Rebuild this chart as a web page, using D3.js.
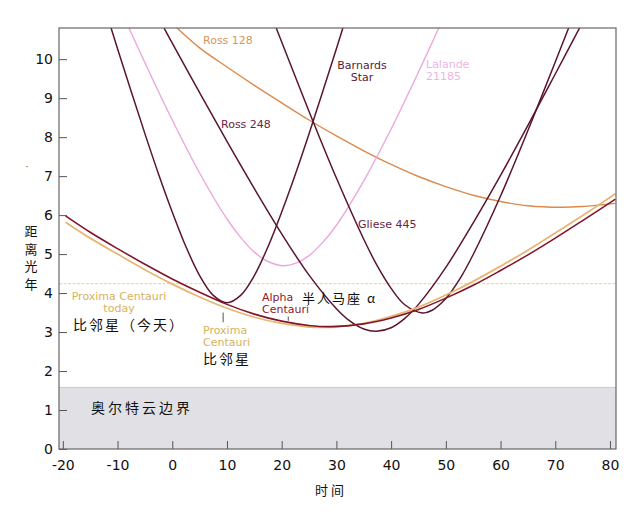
<!DOCTYPE html>
<html>
<head>
<meta charset="utf-8">
<script src="https://d3js.org/d3.v7.min.js"></script>
<style>
body { margin: 0; background: #fff; }
text { font-family: "DejaVu Sans", sans-serif; }
.cjk { font-family: "Noto Sans CJK SC", sans-serif; }
</style>
</head>
<body>
<div id="chart"></div>
<script>
    // distance (light years) over time (thousands of years)
    var proxima = [[-19.5,5.82],[-15,5.41],[-10,5.0],[-5,4.6],[0,4.23],[5,3.9],[10,3.61],[15,3.38],[20,3.22],[25,3.13],[27.5,3.12],[30,3.13],[35,3.22],[40,3.4],[45,3.64],[50,3.95],[55,4.3],[60,4.69],[65,5.1],[70,5.54],[75,5.99],[81,6.55]];
    var alphaCen = [[-19.5,5.98],[-15,5.56],[-10,5.14],[-5,4.74],[0,4.36],[5,4.02],[10,3.71],[15,3.46],[20,3.28],[25,3.17],[29,3.14],[35,3.21],[40,3.36],[45,3.58],[50,3.87],[55,4.2],[60,4.58],[65,4.98],[70,5.41],[75,5.86],[81,6.41]];
    var barnard = [[-12,11.17],[-10,10.27],[-7.5,9.17],[-5,8.09],[-2.5,7.05],[0,6.08],[2.5,5.19],[5,4.45],[7.5,3.94],[10,3.75],[12.5,3.94],[15,4.45],[17.5,5.19],[20,6.08],[22.5,7.05],[25,8.09],[27.5,9.17],[30,10.27],[32,11.17]];
    var ross248 = [[-2,10.93],[0,10.41],[5,9.14],[10,7.89],[15,6.68],[20,5.52],[25,4.46],[30,3.6],[32.5,3.28],[35,3.08],[37.3,3.02],[40,3.11],[42.5,3.35],[45,3.71],[50,4.66],[55,5.8],[60,7.02],[65,8.3],[70,9.62],[75,10.95]];
    var gliese445 = [[18,11.16],[20,10.44],[25,8.66],[30,6.95],[35,5.38],[37.5,4.69],[40,4.12],[42.5,3.7],[45.7,3.49],[47.5,3.56],[50,3.86],[52.5,4.35],[55,4.99],[60,6.49],[65,8.17],[70,9.93],[73,11.0]];
    var lalande = [[-9,11.14],[-5,9.91],[0,8.44],[5,7.08],[10,5.9],[12.5,5.43],[15,5.05],[17.5,4.81],[20.4,4.7],[22.5,4.76],[25,4.96],[27.5,5.3],[30,5.74],[35,6.88],[40,8.21],[45,9.67],[50,11.2]];
    var ross128 = [[0.5,10.85],[5,10.29],[10,9.8],[15,9.33],[20,8.88],[25,8.44],[30,8.03],[35,7.65],[40,7.3],[45,6.99],[50,6.73],[55,6.51],[60,6.35],[65,6.24],[71,6.2],[75,6.22],[81,6.3]];

    var proximaToday = 4.24;
    var oortEdge = 1.58;

    var xTicks = [-20, -10, 0, 10, 20, 30, 40, 50, 60, 70, 80];
    var yTicks = [0, 1, 2, 3, 4, 5, 6, 7, 8, 9, 10];

    var margin = {top: 28, right: 24, bottom: 63, left: 59},
        width = 640 - margin.left - margin.right,
        height = 512 - margin.top - margin.bottom;

    var svgRoot = d3.select("#chart")
        .append("svg")
        .attr("width", 640)
        .attr("height", 512);

    var svg = svgRoot.append("g")
        .attr("transform", "translate(" + margin.left + "," + margin.top + ")");

    var x = d3.scaleLinear().domain([-20.7, 81.1]).range([0, width]);
    var y = d3.scaleLinear().domain([0, 10.8]).range([height, 0]);

    svg.append("clipPath").attr("id", "plotclip")
        .append("rect").attr("width", width).attr("height", height);

    // Oort cloud band
    svg.append("rect")
        .attr("x", 0)
        .attr("y", y(oortEdge))
        .attr("width", width)
        .attr("height", y(0) - y(oortEdge))
        .attr("fill", "#e1e1e5");
    svg.append("line")
        .attr("x1", 0).attr("x2", width)
        .attr("y1", y(oortEdge)).attr("y2", y(oortEdge))
        .attr("stroke", "#c8c8cc");

    // Proxima today reference line
    svg.append("line")
        .attr("x1", 0).attr("x2", width)
        .attr("y1", y(proximaToday)).attr("y2", y(proximaToday))
        .attr("stroke", "#e8dcaa")
        .attr("stroke-width", 1.2)
        .attr("stroke-dasharray", "3,1.5");

    var line = d3.line()
        .x(function(d) { return x(d[0]); })
        .y(function(d) { return y(d[1]); })
        .curve(d3.curveCatmullRom.alpha(0.5));

    var series = [
        {data: ross128, color: "#dc8a4a", w: 1.4},
        {data: lalande, color: "#eba8de", w: 1.4},
        {data: barnard, color: "#5a1630", w: 1.5},
        {data: ross248, color: "#5a1630", w: 1.5},
        {data: gliese445, color: "#5a1630", w: 1.5},
        {data: proxima, color: "#e6b673", w: 1.8},
        {data: alphaCen, color: "#84142a", w: 1.6}
    ];

    var plot = svg.append("g").attr("clip-path", "url(#plotclip)");
    plot.selectAll("path.star")
        .data(series)
        .enter()
        .append("path")
        .attr("class", "star")
        .attr("d", function(d) { return line(d.data); })
        .attr("fill", "none")
        .attr("stroke", function(d) { return d.color; })
        .attr("stroke-width", function(d) { return d.w; });

    // pointer ticks under the labels
    var pointers = [[9.3, 3.5, 3.25], [21.2, 3.4, 3.29]];
    svg.selectAll("line.ptr")
        .data(pointers)
        .enter()
        .append("line")
        .attr("class", "ptr")
        .attr("x1", function(d) { return x(d[0]); })
        .attr("x2", function(d) { return x(d[0]); })
        .attr("y1", function(d) { return y(d[1]); })
        .attr("y2", function(d) { return y(d[2]); })
        .attr("stroke", "#555")
        .attr("stroke-width", 1);

    // axes
    var xAxis = svg.append("g")
        .attr("transform", "translate(0," + height + ")")
        .call(d3.axisBottom(x).tickValues(xTicks).tickSize(-8).tickPadding(11)
            .tickFormat(function(d) { return String(d); }));
    var yAxis = svg.append("g")
        .call(d3.axisLeft(y).tickValues(yTicks).tickSize(-8).tickPadding(6)
            .tickFormat(function(d) { return String(d); }));

    [xAxis, yAxis].forEach(function(a) {
        a.select(".domain").remove();
        a.selectAll(".tick line").attr("stroke", "#555");
        a.selectAll(".tick text")
            .attr("font-family", "DejaVu Sans, sans-serif")
            .attr("font-size", 14)
            .attr("fill", "#111");
    });

    // frame
    svg.append("rect")
        .attr("width", width)
        .attr("height", height)
        .attr("fill", "none")
        .attr("stroke", "#666")
        .attr("stroke-width", 1.2);

    // labels, one text element per line
    function label(lines, px, py, color, anchor, size, cls, spacing) {
        lines.forEach(function(s, i) {
            var t = svgRoot.append("text")
                .attr("x", px).attr("y", py + i * 12)
                .attr("fill", color)
                .attr("font-size", size)
                .attr("text-anchor", anchor)
                .text(s);
            if (cls) t.attr("class", cls);
            if (spacing) t.attr("letter-spacing", spacing);
        });
    }

    label(["Ross 128"], 203, 44, "#d9955c", "start", 11);
    label(["Ross 248"], 221, 128, "#6a2448", "start", 11);
    label(["Barnards", "Star"], 362, 69, "#5a1a30", "middle", 11);
    label(["Lalande", "21185"], 426, 68, "#ebb4e4", "start", 11);
    label(["Gliese 445"], 358, 228, "#6a2448", "start", 11);
    label(["Alpha", "Centauri"], 262, 301, "#8b1a2e", "start", 11);
    label(["半人马座 α"], 302, 303, "#111", "start", 13, "cjk", 2);
    label(["Proxima Centauri", "today"], 119, 300, "#d6b25e", "middle", 11);
    label(["比邻星（今天）"], 73, 330, "#111", "start", 14, "cjk", 2);
    label(["Proxima", "Centauri"], 203, 334, "#d6b25e", "start", 11);
    label(["比邻星"], 203, 364, "#111", "start", 14, "cjk", 2);
    label(["奥尔特云边界"], 91, 413, "#111", "start", 14, "cjk", 3);

    // axis titles
    label(["时间"], 315, 495, "#111", "start", 13, "cjk", 3);
    var yTitle = ["距", "离", "光", "年"];
    yTitle.forEach(function(c, i) {
        label([c], 31, 236 + i * 17.5, "#111", "middle", 13, "cjk");
    });
    label(["·"], 27, 170, "#333", "middle", 9);
</script>
</body>
</html>
